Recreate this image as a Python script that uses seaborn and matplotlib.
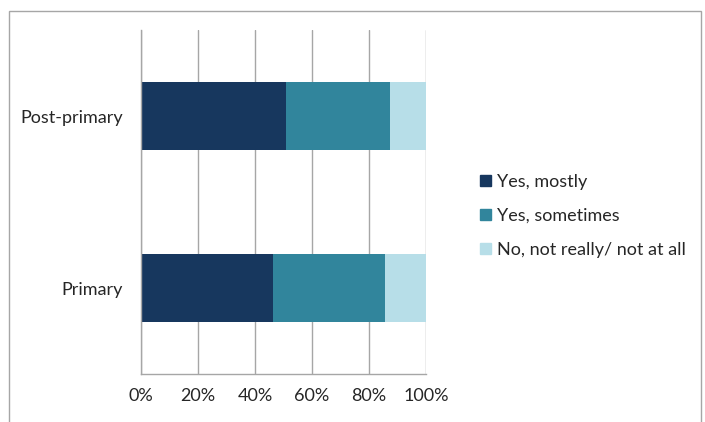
import matplotlib
matplotlib.use("Agg")
import matplotlib.pyplot as plt
import matplotlib.patches as mpatches
import seaborn as sns
import pandas as pd
import numpy as np

categories = ["Post-primary", "Primary"]
series = ["Yes, mostly", "Yes, sometimes", "No, not really/ not at all"]
yes_mostly = [51.0, 46.4]
yes_sometimes = [36.2, 39.3]
no_not_really = [12.8, 14.3]
colors = ["#17375E", "#31859C", "#B7DEE8"]
xticks = [0, 20, 40, 60, 80, 100]
xtick_labels = ["0%", "20%", "40%", "60%", "80%", "100%"]

sns.set_style("white")
plt.rcParams["font.family"] = ["Lato", "DejaVu Sans"]

fig = plt.figure(figsize=(7.05, 4.22), dpi=100)
ax = fig.add_axes([141/705, 1-374/422, (426-141)/705, (374-30)/422])

vals = np.array([yes_mostly, yes_sometimes, no_not_really])
cum = np.cumsum(vals, axis=0)
# draw from the widest cumulative to the narrowest so each segment shows
for i in range(len(series) - 1, -1, -1):
    df = pd.DataFrame({"cat": categories, "val": cum[i]})
    sns.barplot(data=df, x="val", y="cat", orient="h", color=colors[i],
                width=0.4, ax=ax, saturation=1, linewidth=0)

fs = 13
ax.set_xlim(0, 100)
ax.set_ylim(1.5, -0.5)
ax.set_xticks(xticks)
ax.set_xticklabels(xtick_labels, fontsize=fs)
ax.set_xlabel("")
ax.set_ylabel("")
ax.set_yticks([0, 1])
ax.set_yticklabels(categories, fontsize=fs)
ax.set_yticks([-0.5, 0.5, 1.5], minor=True)
ax.tick_params(axis="y", which="major", length=0, pad=13)
ax.tick_params(axis="y", which="minor", length=5, width=1, color="#A6A6A6", direction="out")
ax.tick_params(axis="x", length=6, width=1, color="#A6A6A6", direction="out", pad=4)
ax.xaxis.grid(True, color="#A6A6A6", linewidth=1)
ax.set_axisbelow(True)
for s in ["top", "right"]:
    ax.spines[s].set_visible(False)
for s in ["left", "bottom"]:
    ax.spines[s].set_color("#A6A6A6")
    ax.spines[s].set_linewidth(1)

handles = [mpatches.Patch(color=c, label=l) for c, l in zip(colors, series)]
fig.legend(handles=handles, loc="center left", bbox_to_anchor=(464/705, 1-216/422),
           frameon=False, fontsize=fs, handlelength=0.6, handleheight=0.6,
           handletextpad=0.35, labelspacing=1.0)

fig.patches.append(mpatches.Rectangle((9/705, -0.05), (701-9)/705, 1.05-11/422,
                                      transform=fig.transFigure, fill=False,
                                      edgecolor="#A6A6A6", linewidth=1))

fig.savefig("out.png", dpi=100)
